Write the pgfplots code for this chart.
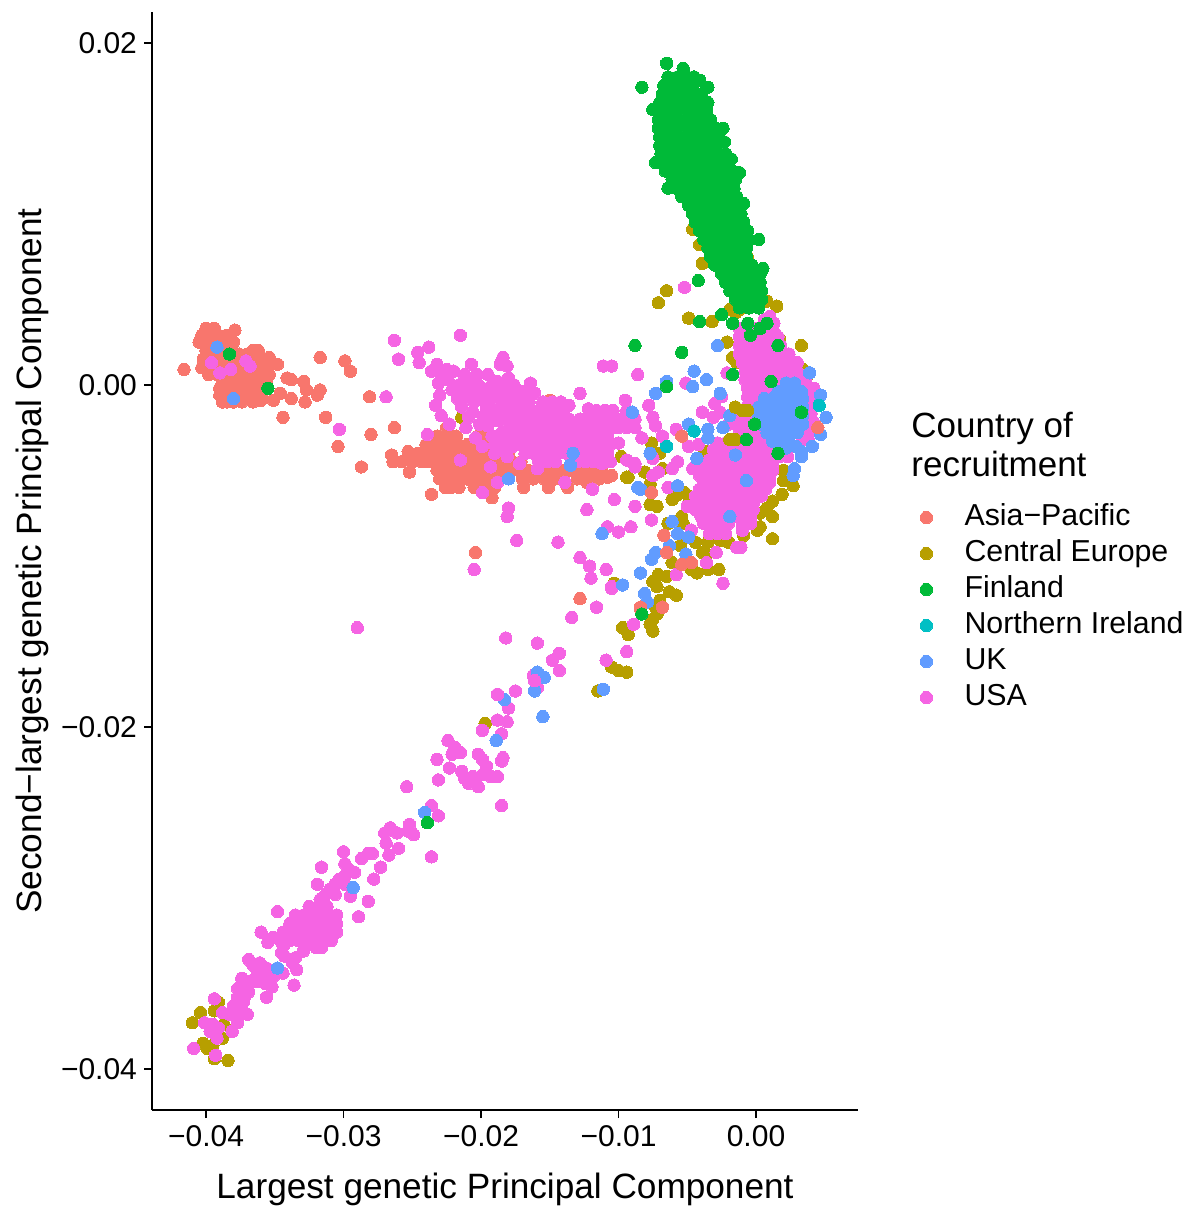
\documentclass[border=0pt]{standalone}
\usepackage{fontspec}
\setmainfont{Liberation Sans}
\usepackage{pgfplots}
\pgfplotsset{compat=1.18}
\definecolor{cA}{HTML}{F8766D}
\definecolor{cC}{HTML}{B79F00}
\definecolor{cF}{HTML}{00BA38}
\definecolor{cN}{HTML}{00BFC4}
\definecolor{cU}{HTML}{619CFF}
\definecolor{cS}{HTML}{F564E3}
\pgfplotsset{
 dot/.style={only marks,mark=*,mark size=3.1pt,color=#1,mark options={draw=#1,fill=#1,line width=0pt},forget plot},
 key/.style={only marks,mark=*,mark size=3.1pt,color=#1,mark options={draw=#1,fill=#1,line width=0pt}}
}
\begin{document}
\begin{tikzpicture}
\path[use as bounding box] (0,0) rectangle (594.5pt,604pt);
\begin{axis}[
 at={(76pt,49pt)},anchor=south west,
 scale only axis,width=353pt,height=549pt,
 xmin=-0.04393,xmax=0.00742,ymin=-0.0424,ymax=0.0218,
 axis lines*=left,
 axis line style={line width=1.4pt,-},
 tick style={line width=0.9pt,black},
 tickwidth=4pt,
 tick align=outside,
 scaled ticks=false,
 xtick={-0.04,-0.03,-0.02,-0.01,0},
 xticklabels={−0.04,−0.03,−0.02,−0.01,0.00},
 ytick={-0.04,-0.02,0,0.02},
 yticklabels={−0.04,−0.02,0.00,0.02},
 tick label style={font=\fontsize{15}{18}\selectfont},
 xlabel={Largest genetic Principal Component},
 ylabel={Second−largest genetic Principal Component},
 label style={font=\fontsize{17.6}{20}\selectfont},
 xlabel shift=6.5pt,
 ylabel shift=-1pt,
 clip=false,
 legend cell align=left,
 legend style={at={(1.079,0.560)},anchor=north west,draw=none,fill=none,
  font=\fontsize{15.15}{18}\selectfont,row sep=0pt,column sep=14pt,
  nodes={text height=11pt,text depth=3pt,inner sep=2pt}},
]
\addlegendimage{key=cA}\addlegendentry{Asia−Pacific}
\addlegendimage{key=cC}\addlegendentry{Central Europe}
\addlegendimage{key=cF}\addlegendentry{Finland}
\addlegendimage{key=cN}\addlegendentry{Northern Ireland}
\addlegendimage{key=cU}\addlegendentry{UK}
\addlegendimage{key=cS}\addlegendentry{USA}
% Asia-Pacific
\addplot[dot=cA] coordinates {
(-.0400,.0033)(-.0394,.0033)(-.0379,.0032)
(-.0403,.0029)(-.0397,.0029)(-.0391,.0029)(-.0385,.0029)
(-.0405,.0025)(-.0398,.0025)(-.0392,.0025)(-.0386,.0025)(-.0380,.0025)
(-.0400,.0020)(-.0394,.0020)(-.0388,.0020)(-.0382,.0020)(-.0366,.0020)(-.0362,.0020)(-.0376,.0018)(-.0370,.0018)
(-.0402,.0015)(-.0396,.0015)(-.0390,.0015)(-.0384,.0015)(-.0378,.0015)(-.0372,.0015)(-.0366,.0015)(-.0360,.0015)
(-.0403,.0010)(-.0397,.0010)(-.0391,.0010)(-.0385,.0010)(-.0379,.0010)(-.0373,.0010)(-.0367,.0010)(-.0361,.0010)(-.0355,.0010)
(-.0398,.0006)(-.0392,.0006)(-.0386,.0006)(-.0380,.0006)(-.0374,.0006)(-.0368,.0006)(-.0362,.0006)(-.0356,.0006)(-.0354,.0006)
(-.0388,.0002)(-.0382,.0002)(-.0376,.0002)(-.0370,.0002)(-.0364,.0002)(-.0358,.0002)(-.0356,.0002)
(-.0390,-.0002)(-.0384,-.0002)(-.0378,-.0002)(-.0372,-.0002)(-.0366,-.0002)(-.0360,-.0002)(-.0356,-.0002)
(-.0390,-.0006)(-.0384,-.0006)(-.0378,-.0006)(-.0372,-.0006)(-.0366,-.0006)(-.0360,-.0006)(-.0371,-.0006)
(-.0388,-.0010)(-.0374,-.0010)(-.0366,-.0010)(-.0360,-.0009)(-.0380,-.0010)(-.0385,-.0010)
(-.0416,.0009)(-.0354,.0016)(-.0348,.0012)(-.0317,.0016)(-.0299,.0014)(-.0295,.0008)(-.0341,.0004)(-.0338,.0003)
(-.0329,.0002)(-.0327,-.0003)(-.0317,-.0003)(-.0319,-.0006)(-.0346,-.0005)(-.0338,-.0008)(-.0351,-.0009)(-.0328,-.0010)
(-.0344,-.0019)(-.0313,-.0019)(-.0304,-.0036)(-.0281,-.0007)(-.0280,-.0029)(-.0263,-.0025)(-.0287,-.0048)
(-.0232,-.0030)(-.0226,-.0030)(-.0218,-.0030)(-.0202,-.0030)(-.0196,-.0030)(-.0225,-.0025)(-.0197,-.0026)
(-.0240,-.0035)(-.0234,-.0035)(-.0228,-.0035)(-.0222,-.0035)(-.0216,-.0035)(-.0210,-.0035)(-.0204,-.0035)(-.0198,-.0035)(-.0192,-.0035)(-.0186,-.0035)
(-.0265,-.0041)(-.0253,-.0039)(-.0246,-.0040)(-.0240,-.0040)(-.0234,-.0040)(-.0228,-.0040)(-.0222,-.0040)(-.0216,-.0040)(-.0210,-.0040)(-.0204,-.0040)(-.0198,-.0040)(-.0192,-.0040)(-.0186,-.0040)(-.0180,-.0040)
(-.0264,-.0045)(-.0258,-.0045)(-.0250,-.0045)(-.0243,-.0045)(-.0237,-.0045)(-.0231,-.0045)(-.0225,-.0045)(-.0219,-.0045)(-.0213,-.0045)(-.0207,-.0045)(-.0201,-.0045)(-.0195,-.0045)(-.0189,-.0045)(-.0183,-.0045)(-.0177,-.0045)(-.0171,-.0045)
(-.0252,-.0051)(-.0232,-.0050)(-.0226,-.0050)(-.0220,-.0050)(-.0214,-.0050)(-.0208,-.0050)(-.0202,-.0050)(-.0196,-.0050)(-.0190,-.0050)(-.0184,-.0050)(-.0178,-.0050)(-.0172,-.0050)(-.0166,-.0050)(-.0160,-.0050)(-.0154,-.0050)(-.0148,-.0050)(-.0142,-.0050)(-.0136,-.0050)(-.0130,-.0050)(-.0124,-.0050)(-.0118,-.0050)(-.0112,-.0050)
(-.0230,-.0055)(-.0224,-.0055)(-.0218,-.0055)(-.0210,-.0055)(-.0204,-.0055)(-.0198,-.0055)(-.0192,-.0055)(-.0170,-.0055)(-.0162,-.0055)(-.0154,-.0055)(-.0146,-.0055)(-.0130,-.0055)(-.0122,-.0055)(-.0114,-.0055)
(-.0226,-.0060)(-.0222,-.0060)(-.0216,-.0060)(-.0205,-.0060)(-.0198,-.0060)(-.0190,-.0060)(-.0169,-.0060)(-.0151,-.0060)(-.0137,-.0060)(-.0123,-.0057)(-.0105,-.0053)(-.0108,-.0054)
(-.0236,-.0064)(-.0192,-.0066)(-.0150,-.0009)(-.0152,-.0019)
(-.0204,-.0098)(-.0128,-.0125)(-.0084,-.0131)
};
% Central Europe
\addplot[dot=cC] coordinates {
(-.0065,.0055)(-.0071,.0048)(-.0049,.0039)(-.0032,.0037)(-.0046,.0091)(-.0041,.0082)(-.0039,.0071)(-.0006,.0074)
(.0008,.0049)(-.0019,.0044)(-.0015,.0042)(-.0012,.0044)(.0015,.0046)(-.0008,.0046)(-.0004,.0046)
(.0033,.0023)(-.0021,.0025)(-.0017,.0016)(-.0014,.0013)(.0017,.0027)(.0010,.0026)(.0034,.0009)(.0037,.0005)
(-.0214,-.0019)(-.0098,-.0042)(-.0094,-.0054)
(-.0076,-.0034)(-.0070,-.0040)(-.0068,-.0049)(-.0081,-.0051)(-.0093,-.0054)(-.0077,-.0058)(-.0037,-.0039)(-.0036,-.0057)(-.0021,-.0054)(-.0014,-.0049)
(-.0061,-.0067)(-.0057,-.0064)(-.0052,-.0063)(-.0049,-.0065)(-.0077,-.0070)(-.0072,-.0071)(-.0064,-.0081)(-.0054,-.0077)(-.0053,-.0081)
(.0020,-.0050)(.0020,-.0056)(.0027,-.0059)(.0019,-.0064)(.0012,-.0068)(.0008,-.0072)(.0003,-.0075)(.0012,-.0077)(.0003,-.0083)(.0001,-.0085)(.0012,-.0090)(-.0009,-.0088)(-.0013,-.0077)
(-.0055,-.0094)(-.0044,-.0092)(-.0035,-.0092)(-.0026,-.0091)(-.0020,-.0092)(-.0039,-.0098)(-.0036,-.0099)(-.0061,-.0104)(-.0047,-.0108)(-.0043,-.0110)(-.0035,-.0108)(-.0027,-.0108)
(-.0071,-.0111)(-.0065,-.0112)(-.0075,-.0115)(-.0072,-.0118)(-.0063,-.0121)(-.0058,-.0123)(-.0070,-.0126)(-.0073,-.0130)(-.0072,-.0134)
(-.0097,-.0142)(-.0093,-.0146)(-.0075,-.0144)(-.0105,-.0165)(-.0100,-.0167)(-.0094,-.0168)(-.0115,-.0179)(-.0197,-.0198)(-.0075,-.0137)(-.0077,-.0140)(-.0103,-.0116)
(-.0391,-.0361)(-.0394,-.0366)(-.0404,-.0367)(-.0410,-.0373)(-.0387,-.0374)(-.0388,-.0382)(-.0402,-.0385)(-.0399,-.0388)(-.0395,-.0386)(-.0394,-.0394)(-.0384,-.0395)
};
% USA
\addplot[dot=cS] coordinates {
(-.0396,.0013)(-.0390,.0007)(-.0382,.0009)(-.0371,.0014)(-.0368,.0011)
(-.0263,.0026)(-.0260,.0015)(-.0269,-.0007)(-.0303,-.0026)(-.0239,-.0029)
(-.0215,.0029)(-.0246,.0019)(-.0238,.0022)(-.0245,.0013)
(-.0232,.0012)(-.0236,.0008)(-.0225,.0009)(-.0231,.0001)(-.0224,.0003)(-.0221,-.0003)(-.0217,-.0008)(-.0212,-.0003)
(-.0207,.0012)(-.0203,.0006)(-.0195,.0006)(-.0199,-.0002)(-.0206,-.0005)(-.0184,.0016)(-.0186,.0012)(-.0181,.0011)(-.0188,.0002)(-.0180,.0004)(-.0174,-.0003)(-.0164,.0001)(-.0161,-.0005)
(-.0230,-.0006)(-.0233,-.0012)(-.0229,-.0018)(-.0209,-.0019)(-.0211,-.0025)(-.0223,-.0023)(-.0201,-.0023)(-.0196,-.0013)(-.0193,-.0009)(-.0184,-.0009)(-.0188,-.0015)(-.0177,-.0013)(-.0170,-.0010)(-.0185,-.0028)
(-.0192,.0000)(-.0184,.0000)(-.0176,.0000)(-.0196,-.0005)(-.0188,-.0005)(-.0180,-.0005)(-.0172,-.0008)
(-.0228,.0005)(-.0220,.0008)(-.0212,.0006)(-.0216,.0000)(-.0208,.0001)(-.0202,.0000)(-.0212,-.0008)(-.0205,-.0010)(-.0198,-.0007)(-.0214,-.0013)(-.0206,-.0016)(-.0198,-.0018)(-.0192,-.0016)(-.0195,-.0024)(-.0190,-.0021)(-.0186,-.0021)(-.0192,-.0030)(-.0186,-.0033)(-.0180,-.0030)(-.0182,-.0014)(-.0176,-.0008)(-.0168,-.0004)(-.0166,-.0010)(-.0190,-.0035)(-.0184,-.0038)
(-.0128,-.0005)(-.0111,.0011)(-.0105,.0011)(-.0086,.0006)(-.0095,-.0009)(-.0094,-.0015)
(-.0204,-.0031)(-.0199,-.0036)(-.0193,-.0048)(-.0215,-.0044)(-.0188,-.0057)(-.0199,-.0063)(-.0190,-.0040)(-.0181,-.0042)(-.0177,-.0036)(-.0172,-.0046)(-.0159,-.0049)(-.0139,-.0057)(-.0119,-.0061)(-.0103,-.0067)(-.0123,-.0073)(-.0088,-.0071)(-.0180,-.0072)(-.0181,-.0077)
(-.0165,-.0010)(-.0155,-.0010)(-.0148,-.0010)(-.0142,-.0010)(-.0136,-.0012)
(-.0182,-.0020)(-.0176,-.0018)(-.0170,-.0016)(-.0164,-.0015)(-.0158,-.0015)(-.0152,-.0015)(-.0146,-.0015)(-.0140,-.0015)(-.0122,-.0014)(-.0116,-.0015)(-.0110,-.0015)(-.0104,-.0015)
(-.0178,-.0024)(-.0172,-.0020)(-.0166,-.0020)(-.0160,-.0020)(-.0154,-.0020)(-.0148,-.0020)(-.0142,-.0020)(-.0136,-.0020)(-.0128,-.0020)(-.0122,-.0020)(-.0116,-.0020)(-.0110,-.0020)(-.0104,-.0020)(-.0100,-.0020)(-.0094,-.0020)(-.0088,-.0020)
(-.0170,-.0025)(-.0164,-.0025)(-.0158,-.0025)(-.0152,-.0025)(-.0146,-.0025)(-.0140,-.0025)(-.0134,-.0025)(-.0128,-.0025)(-.0122,-.0025)(-.0116,-.0025)(-.0110,-.0025)(-.0104,-.0025)(-.0100,-.0025)(-.0094,-.0025)(-.0088,-.0025)
(-.0176,-.0030)(-.0168,-.0030)(-.0162,-.0030)(-.0156,-.0030)(-.0150,-.0030)(-.0144,-.0030)(-.0138,-.0030)(-.0132,-.0030)(-.0126,-.0030)(-.0120,-.0030)(-.0114,-.0030)(-.0108,-.0030)
(-.0172,-.0035)(-.0166,-.0035)(-.0160,-.0035)(-.0154,-.0035)(-.0148,-.0035)(-.0142,-.0035)(-.0136,-.0035)(-.0130,-.0035)(-.0124,-.0035)(-.0118,-.0035)(-.0112,-.0035)(-.0106,-.0035)(-.0100,-.0034)
(-.0168,-.0040)(-.0162,-.0040)(-.0156,-.0040)(-.0150,-.0040)(-.0144,-.0040)(-.0138,-.0040)(-.0132,-.0040)(-.0126,-.0040)(-.0120,-.0040)(-.0114,-.0040)(-.0108,-.0040)(-.0094,-.0044)(-.0088,-.0048)
(-.0158,-.0045)(-.0152,-.0045)(-.0146,-.0045)(-.0130,-.0045)(-.0124,-.0045)(-.0118,-.0045)(-.0112,-.0046)(-.0106,-.0045)
(-.0174,-.0091)(-.0144,-.0092)(-.0076,-.0079)(-.0108,-.0083)(-.0100,-.0086)(-.0091,-.0083)(-.0128,-.0101)(-.0121,-.0106)(-.0120,-.0113)(-.0109,-.0108)(-.0105,-.0118)(-.0105,-.0119)(-.0205,-.0108)(-.0116,-.0130)(-.0134,-.0136)(-.0089,-.0140)(-.0094,-.0156)(-.0109,-.0161)
(-.0182,-.0148)(-.0159,-.0151)(-.0143,-.0157)(-.0148,-.0161)(-.0143,-.0167)(-.0162,-.0170)(-.0159,-.0177)(-.0175,-.0179)(-.0188,-.0181)(-.0180,-.0189)(-.0188,-.0196)(-.0181,-.0197)(-.0199,-.0202)(-.0185,-.0204)(-.0290,-.0142)
(-.0224,-.0208)(-.0219,-.0212)(-.0221,-.0216)(-.0215,-.0215)(-.0232,-.0219)(-.0223,-.0224)(-.0231,-.0231)(-.0254,-.0235)
(-.0202,-.0216)(-.0199,-.0219)(-.0196,-.0223)(-.0184,-.0218)(-.0185,-.0220)(-.0214,-.0226)(-.0212,-.0230)(-.0209,-.0233)(-.0202,-.0235)(-.0206,-.0229)(-.0199,-.0228)(-.0193,-.0229)(-.0188,-.0229)(-.0185,-.0246)(-.0236,-.0246)(-.0231,-.0252)(-.0236,-.0276)
(-.0252,-.0257)(-.0249,-.0263)(-.0253,-.0261)(-.0266,-.0259)(-.0270,-.0262)(-.0261,-.0262)(-.0269,-.0268)(-.0260,-.0271)(-.0267,-.0275)(-.0279,-.0274)(-.0287,-.0277)(-.0282,-.0274)(-.0300,-.0273)(-.0299,-.0280)(-.0273,-.0282)(-.0278,-.0289)(-.0282,-.0302)(-.0289,-.0311)(-.0295,-.0299)(-.0316,-.0282)(-.0348,-.0308)(-.0360,-.0320)(-.0336,-.0351)(-.0356,-.0358)(-.0334,-.0342)(-.0329,-.0331)
(-.0295,-.0284)(-.0299,-.0287)(-.0303,-.0289)(-.0292,-.0285)(-.0306,-.0292)(-.0310,-.0295)(-.0299,-.0292)(-.0319,-.0292)(-.0313,-.0298)(-.0306,-.0298)(-.0317,-.0301)
(-.0325,-.0305)(-.0318,-.0305)(-.0312,-.0305)
(-.0335,-.0310)(-.0329,-.0310)(-.0322,-.0310)(-.0316,-.0310)(-.0310,-.0310)(-.0305,-.0310)
(-.0339,-.0315)(-.0333,-.0315)(-.0327,-.0315)(-.0321,-.0315)(-.0315,-.0315)(-.0309,-.0315)(-.0305,-.0315)
(-.0344,-.0320)(-.0338,-.0320)(-.0332,-.0320)(-.0326,-.0320)(-.0320,-.0320)(-.0314,-.0320)(-.0308,-.0320)(-.0305,-.0320)
(-.0339,-.0325)(-.0333,-.0325)(-.0327,-.0325)(-.0321,-.0325)(-.0315,-.0325)(-.0309,-.0325)
(-.0320,-.0329)(-.0316,-.0329)
(-.0351,-.0323)(-.0355,-.0326)(-.0345,-.0326)(-.0343,-.0327)(-.0345,-.0332)(-.0343,-.0334)(-.0335,-.0335)(-.0337,-.0338)(-.0344,-.0344)
(-.0369,-.0336)(-.0366,-.0339)(-.0361,-.0338)(-.0356,-.0341)(-.0351,-.0346)(-.0352,-.0352)(-.0363,-.0342)(-.0359,-.0346)(-.0363,-.0349)(-.0357,-.0350)(-.0374,-.0347)
(-.0377,-.0353)(-.0369,-.0355)(-.0377,-.0358)(-.0372,-.0358)(-.0377,-.0361)(-.0373,-.0361)(-.0374,-.0364)(-.0370,-.0368)
(-.0374,-.0356)(-.0366,-.0348)(-.0371,-.0350)(-.0375,-.0368)(-.0380,-.0363)
(-.0394,-.0359)(-.0388,-.0367)(-.0383,-.0368)(-.0377,-.0373)(-.0381,-.0378)(-.0401,-.0373)(-.0397,-.0378)(-.0392,-.0382)(-.0409,-.0388)(-.0393,-.0392)(-.0395,-.0374)(-.0391,-.0376)
(-.0051,.0001)(-.0078,-.0012)(-.0075,-.0019)(-.0073,-.0024)(-.0058,-.0026)(-.0068,-.0030)(-.0083,-.0031)(-.0075,-.0043)(-.0088,-.0046)(-.0057,-.0045)(-.0061,-.0049)(-.0071,-.0051)(-.0075,-.0053)(-.0064,-.0060)
(-.0049,-.0036)(-.0042,-.0035)(-.0039,-.0016)(-.0031,-.0019)(-.0025,-.0007)(-.0030,-.0011)(-.0026,-.0016)(-.0020,-.0023)(-.0014,-.0023)(-.0008,-.0020)(-.0021,.0007)(-.0046,-.0049)(-.0041,-.0053)(-.0034,-.0044)
(-.0036,-.0104)(-.0058,-.0111)(-.0024,-.0116)(-.0029,-.0098)(-.0011,-.0095)(-.0014,-.0095)(-.0050,-.0071)(-.0047,-.0085)(-.0052,.0057)
(.0010,.0040)(.0013,.0036)(.0014,.0030)(.0006,.0038)
(-.0012,.0033)(-.0006,.0033)(0,.0033)(.0006,.0033)(.0012,.0033)
(-.0012,.0028)(-.0006,.0028)(0,.0028)(.0006,.0028)(.0012,.0028)(.0016,.0028)
(-.0012,.0023)(-.0006,.0023)(0,.0023)(.0006,.0023)(.0012,.0023)(.0018,.0023)
(-.0012,.0018)(-.0006,.0018)(0,.0018)(.0006,.0018)(.0012,.0018)(.0018,.0018)(.0024,.0018)
(-.0010,.0013)(-.0004,.0013)(.0002,.0013)(.0008,.0013)(.0014,.0013)(.0020,.0013)(.0026,.0013)(.0030,.0013)
(-.0008,.0008)(-.0002,.0008)(.0004,.0008)(.0010,.0008)(.0016,.0008)(.0022,.0008)(.0028,.0008)(.0030,.0008)
(-.0008,.0003)(-.0002,.0003)(.0004,.0003)(.0010,.0003)(.0016,.0003)(.0022,.0003)(.0028,.0003)(.0034,.0003)(.0036,.0003)
(-.0006,-.0002)(0,-.0002)(.0006,-.0002)(.0012,-.0002)(.0018,-.0002)(.0024,-.0002)(.0030,-.0002)(.0036,-.0002)(.0042,-.0002)
(-.0006,-.0007)(0,-.0007)(.0006,-.0007)(.0030,-.0007)(.0036,-.0007)(.0044,-.0007)
(-.0002,-.0012)(.0004,-.0012)(.0030,-.0012)(.0036,-.0012)(.0042,-.0012)
(0,-.0012)(-.0006,-.0012)(-.0003,-.0016)(.0002,-.0016)
(-.0012,-.0020)(-.0006,-.0020)(0,-.0020)(-.0012,-.0026)(-.0006,-.0026)(0,-.0026)(.0006,-.0026)(.0004,-.0030)(-.0004,-.0031)(-.0010,-.0031)
(.0034,-.0017)(.0040,-.0017)(.0036,-.0022)(.0042,-.0022)(.0034,-.0027)(.0040,-.0027)(.0034,-.0032)(.0038,-.0032)
(-.0028,-.0034)(-.0022,-.0034)(-.0016,-.0034)(-.0010,-.0034)(-.0004,-.0034)(.0002,-.0034)(.0008,-.0034)
(-.0031,-.0038)(-.0025,-.0038)(-.0019,-.0038)(-.0013,-.0038)(-.0007,-.0038)(-.0001,-.0038)(.0005,-.0038)(.0011,-.0038)
(-.0031,-.0042)(-.0025,-.0042)(-.0019,-.0042)(-.0013,-.0042)(-.0007,-.0042)(-.0001,-.0042)(.0005,-.0042)(.0011,-.0042)(.0017,-.0042)(.0023,-.0042)
(-.0036,-.0046)(-.0030,-.0046)(-.0024,-.0046)(-.0018,-.0046)(-.0012,-.0046)(-.0006,-.0046)(0,-.0046)(.0006,-.0046)(.0012,-.0046)
(-.0041,-.0050)(-.0035,-.0050)(-.0029,-.0050)(-.0023,-.0050)(-.0017,-.0050)(-.0011,-.0050)(-.0005,-.0050)(.0001,-.0050)(.0007,-.0050)(.0012,-.0050)
(-.0038,-.0054)(-.0032,-.0054)(-.0026,-.0054)(-.0020,-.0054)(-.0014,-.0054)(-.0008,-.0054)(-.0002,-.0054)(.0004,-.0054)(.0010,-.0054)
(-.0038,-.0057)(-.0032,-.0057)(-.0026,-.0057)(-.0020,-.0057)(-.0014,-.0057)(-.0008,-.0057)(-.0002,-.0057)(.0004,-.0057)(.0010,-.0057)
(-.0041,-.0061)(-.0035,-.0061)(-.0029,-.0061)(-.0023,-.0061)(-.0017,-.0061)(-.0011,-.0061)(-.0005,-.0061)(.0001,-.0061)(.0007,-.0061)
(-.0044,-.0065)(-.0038,-.0065)(-.0032,-.0065)(-.0026,-.0065)(-.0020,-.0065)(-.0014,-.0065)(-.0008,-.0065)(-.0002,-.0065)(.0004,-.0065)
(-.0044,-.0069)(-.0038,-.0069)(-.0032,-.0069)(-.0026,-.0069)(-.0020,-.0069)(-.0014,-.0069)(-.0008,-.0069)(-.0002,-.0069)
(-.0044,-.0073)(-.0038,-.0073)(-.0032,-.0073)(-.0026,-.0073)(-.0020,-.0073)(-.0014,-.0073)(-.0008,-.0073)(-.0002,-.0073)
(-.0040,-.0077)(-.0034,-.0077)(-.0028,-.0077)(-.0022,-.0077)(-.0016,-.0077)(-.0010,-.0077)(-.0004,-.0077)
(-.0038,-.0081)(-.0032,-.0081)(-.0026,-.0081)(-.0020,-.0081)(-.0010,-.0081)(-.0004,-.0081)
(-.0034,-.0087)(-.0028,-.0087)(-.0022,-.0087)(-.0010,-.0085)
};
% UK
\addplot[dot=cU] coordinates {
(-.0392,.0022)(-.0380,-.0008)(-.0133,-.0040)(-.0135,-.0047)(-.0180,-.0055)(-.0090,-.0016)(-.0086,-.0060)
(.0022,.0001)(.0028,.0001)
(.0016,-.0004)(.0022,-.0004)(.0028,-.0004)(.0033,-.0004)
(.0006,-.0008)(.0012,-.0008)(.0018,-.0008)(.0024,-.0008)(.0030,-.0008)(.0034,-.0008)
(.0002,-.0013)(.0008,-.0013)(.0014,-.0013)(.0020,-.0013)(.0026,-.0013)(.0032,-.0013)(.0034,-.0013)
(.0002,-.0018)(.0008,-.0018)(.0014,-.0018)(.0020,-.0018)(.0026,-.0018)(.0032,-.0018)(.0034,-.0018)
(.0004,-.0023)(.0010,-.0023)(.0016,-.0023)(.0022,-.0023)(.0028,-.0023)(.0034,-.0023)
(.0008,-.0028)(.0014,-.0028)(.0020,-.0028)(.0026,-.0028)(.0030,-.0028)
(.0012,-.0033)(.0018,-.0033)(.0024,-.0033)(.0029,-.0036)(.0033,-.0039)(.0018,-.0037)(.0022,-.0037)
(-.0028,.0023)(-.0045,.0008)(-.0036,.0003)(-.0046,-.0001)(-.0065,.0002)(-.0073,-.0005)(-.0026,-.0005)(-.0049,-.0023)(-.0035,-.0026)(-.0035,-.0031)(-.0024,-.0025)(-.0019,-.0018)
(-.0077,-.0040)(-.0043,-.0043)(-.0015,-.0041)(-.0007,-.0056)(.0028,-.0049)(.0027,-.0053)(-.0084,-.0061)(-.0057,-.0059)(-.0019,-.0077)(-.0061,-.0080)(-.0057,-.0087)(-.0049,-.0089)(-.0063,-.0094)(-.0073,-.0098)(-.0076,-.0102)(-.0051,-.0099)(-.0084,-.0110)(-.0097,-.0117)(-.0081,-.0122)
(.0051,-.0019)(.0047,-.0029)(.0047,-.0006)(.0039,.0007)(.0033,-.0042)(.0041,-.0036)
(-.0112,-.0087)(-.0079,-.0127)(-.0111,-.0178)(-.0159,-.0168)(-.0154,-.0171)(-.0161,-.0179)(-.0183,-.0184)(-.0155,-.0194)(-.0189,-.0208)(-.0241,-.0250)
(-.0348,-.0341)(-.0293,-.0294)
};
% USA over UK, and points that lie on top
\addplot[dot=cS] coordinates {(-.0161,-.0173)(-.0188,-.0181)};
\addplot[dot=cC] coordinates {(-.0015,-.0013)(-.0010,-.0015)(-.0006,-.0015)(-.0019,-.0032)(-.0015,-.0032)};
\addplot[dot=cA] coordinates {(.0045,-.0025)(-.0054,-.0030)(-.0076,-.0063)(-.0067,-.0088)(-.0065,-.0098)(-.0054,-.0105)(-.0047,-.0104)(-.0084,-.0130)(-.0068,-.0130)};
% Northern Ireland
\addplot[dot=cN] coordinates {(.0046,-.0012)(-.0045,-.0027)(-.0065,-.0036)};
% Finland
\addplot[dot=cF] coordinates {
(-.0065,.0188)(-.0053,.0185)
(-.0064,.0180)(-.0057,.0180)(-.0050,.0180)(-.0045,.0180)
(-.0067,.0175)(-.0060,.0175)(-.0053,.0175)(-.0046,.0175)(-.0041,.0178)
(-.0068,.0170)(-.0061,.0170)(-.0054,.0170)(-.0047,.0170)(-.0040,.0170)(-.0035,.0174)
(-.0070,.0165)(-.0063,.0165)(-.0056,.0165)(-.0049,.0165)(-.0042,.0165)(-.0035,.0165)
(-.0075,.0161)(-.0071,.0160)(-.0064,.0160)(-.0057,.0160)(-.0050,.0160)(-.0043,.0160)(-.0036,.0160)
(-.0071,.0155)(-.0064,.0155)(-.0057,.0155)(-.0050,.0155)(-.0043,.0155)(-.0036,.0155)(-.0033,.0155)
(-.0071,.0150)(-.0064,.0150)(-.0057,.0150)(-.0050,.0150)(-.0043,.0150)(-.0036,.0150)(-.0029,.0150)(-.0024,.0150)
(-.0070,.0145)(-.0063,.0145)(-.0056,.0145)(-.0049,.0145)(-.0042,.0145)(-.0035,.0145)(-.0028,.0145)
(-.0070,.0140)(-.0063,.0140)(-.0056,.0140)(-.0049,.0140)(-.0042,.0140)(-.0035,.0140)(-.0028,.0140)(-.0023,.0142)
(-.0069,.0135)(-.0062,.0135)(-.0055,.0135)(-.0048,.0135)(-.0041,.0135)(-.0034,.0135)(-.0027,.0135)(-.0022,.0135)
(-.0073,.0130)(-.0068,.0130)(-.0061,.0130)(-.0054,.0130)(-.0047,.0130)(-.0040,.0130)(-.0033,.0130)(-.0026,.0130)(-.0020,.0130)(-.0018,.0132)
(-.0066,.0125)(-.0059,.0125)(-.0052,.0125)(-.0045,.0125)(-.0038,.0125)(-.0031,.0125)(-.0024,.0125)(-.0017,.0125)(-.0012,.0124)
(-.0061,.0120)(-.0054,.0120)(-.0047,.0120)(-.0040,.0120)(-.0033,.0120)(-.0026,.0120)(-.0019,.0120)(-.0015,.0120)
(-.0064,.0115)(-.0058,.0115)(-.0051,.0115)(-.0044,.0115)(-.0037,.0115)(-.0030,.0115)(-.0023,.0115)(-.0016,.0115)
(-.0054,.0110)(-.0047,.0110)(-.0040,.0110)(-.0033,.0110)(-.0026,.0110)(-.0019,.0110)(-.0014,.0110)
(-.0049,.0105)(-.0042,.0105)(-.0035,.0105)(-.0028,.0105)(-.0021,.0105)(-.0014,.0105)(-.0009,.0106)
(-.0046,.0100)(-.0039,.0100)(-.0032,.0100)(-.0025,.0100)(-.0018,.0100)(-.0011,.0100)
(-.0044,.0095)(-.0037,.0095)(-.0030,.0095)(-.0023,.0095)(-.0016,.0095)(-.0009,.0095)
(-.0041,.0090)(-.0034,.0090)(-.0027,.0090)(-.0020,.0090)(-.0013,.0090)(-.0006,.0090)
(-.0038,.0085)(-.0031,.0085)(-.0024,.0085)(-.0017,.0085)(-.0010,.0085)(-.0005,.0085)(.0002,.0085)
(-.0035,.0080)(-.0028,.0080)(-.0021,.0080)(-.0014,.0080)(-.0007,.0080)
(-.0033,.0075)(-.0026,.0075)(-.0019,.0075)(-.0012,.0075)(-.0007,.0075)
(-.0030,.0070)(-.0023,.0070)(-.0016,.0070)(-.0009,.0070)(-.0003,.0070)(.0005,.0068)
(-.0025,.0065)(-.0018,.0065)(-.0011,.0065)(-.0004,.0065)(.0003,.0065)
(-.0022,.0060)(-.0015,.0060)(-.0008,.0060)(-.0001,.0060)(.0003,.0060)
(-.0019,.0055)(-.0012,.0055)(-.0005,.0055)(.0002,.0055)(.0004,.0055)
(-.0015,.0050)(-.0008,.0050)(-.0001,.0050)(.0004,.0050)
(-.0012,.0045)(-.0005,.0045)(.0002,.0045)
(-.0083,.0174)(-.0042,.0061)(-.0025,.0041)(-.0041,.0037)(-.0017,.0036)(-.0006,.0036)(.0003,.0033)(.0008,.0036)(-.0004,.0029)
(-.0088,.0023)(-.0054,.0019)(-.0065,-.0001)(.0016,.0023)(-.0017,.0006)(.0011,.0002)(.0033,-.0016)(-.0001,-.0023)(-.0007,-.0032)(.0016,-.0040)
(-.0083,-.0134)(-.0383,.0018)(-.0355,-.0002)(-.0239,-.0256)
};
\end{axis}
\node[anchor=north west,inner sep=0pt,align=left,font=\fontsize{17.5}{19.5}\selectfont] at (455.5pt,398pt) {Country of\\recruitment};
\end{tikzpicture}
\end{document}
